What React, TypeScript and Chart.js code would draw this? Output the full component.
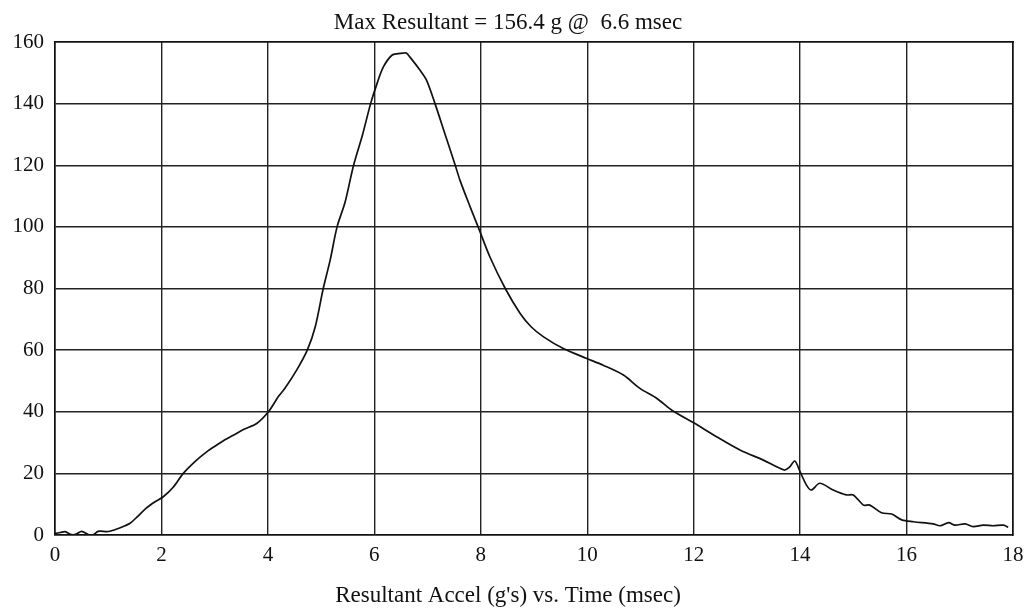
import React, { useEffect, useRef } from "react";
import { Chart, registerables } from "chart.js";

Chart.register(...registerables);

const titleText = "Max Resultant = 156.4 g @  6.6 msec";
const xAxisTitle = "Resultant Accel (g's) vs. Time (msec)";

const timeMs = [
  0.0, 0.1, 0.19, 0.31, 0.4, 0.5, 0.63, 0.72, 0.81, 0.97, 1.03, 1.2, 1.41, 1.55, 1.72, 1.88,
  2.04, 2.22, 2.41, 2.66, 2.85, 3.04, 3.2, 3.35, 3.55, 3.79, 4.01, 4.2, 4.32, 4.54, 4.74,
  4.89, 5.04, 5.17, 5.3, 5.45, 5.61, 5.78, 5.93, 6.05, 6.17, 6.33, 6.45, 6.54, 6.6, 6.67,
  6.86, 6.98, 7.14, 7.33, 7.52, 7.61, 7.8, 7.95, 8.17, 8.46, 8.74, 8.95, 9.18, 9.55, 9.99,
  10.3, 10.68, 10.99, 11.31, 11.59, 12.0, 12.43, 12.87, 13.31, 13.7, 13.8, 13.9, 14.0,
  14.12, 14.21, 14.37, 14.62, 14.87, 15.0, 15.19, 15.31, 15.53, 15.72, 15.91, 16.13, 16.5,
  16.63, 16.79, 16.91, 17.1, 17.25, 17.44, 17.63, 17.82, 17.91,
];

const accelG = [
  0.5, 0.8, 1.1, 0.1, 0.3, 1.2, 0.1, 0.1, 1.2, 1.1, 1.2, 2.2, 3.8, 6.0, 8.8, 10.8,
  12.5, 15.5, 20.0, 24.3, 27.0, 29.2, 31.0, 32.4, 34.3, 36.2, 40.0, 45.0, 47.6, 53.5, 60.0,
  67.6, 80.0, 89.2, 100.0, 108.0, 120.0, 130.0, 140.0, 146.5, 151.9, 155.7, 156.2, 156.4, 156.4, 155.1,
  150.8, 147.6, 140.0, 130.0, 120.0, 115.1, 106.5, 100.0, 90.3, 80.0, 71.9, 67.5, 64.3, 60.5, 57.3,
  55.1, 51.9, 47.6, 44.3, 40.5, 36.4, 31.9, 27.6, 24.3, 21.1, 22.0, 24.0, 20.5,
  16.2, 14.6, 16.8, 14.6, 13.0, 13.0, 9.7, 9.7, 7.2, 6.8, 4.9, 4.3, 3.6,
  3.0, 4.0, 3.2, 3.6, 2.7, 3.2, 3.0, 3.2, 2.5,
];

const xMin = 0;
const xMax = 18;
const xStep = 2;
const yMin = 0;
const yMax = 160;
const yStep = 20;

const FONT = "'Liberation Serif', 'Times New Roman', serif";

export default function App() {
  const ref = useRef<HTMLCanvasElement | null>(null);

  useEffect(() => {
    if (!ref.current) return;
    const textPlugin = {
      id: "texts",
      afterDraw(chart: any) {
        const ctx = chart.ctx;
        ctx.save();
        ctx.fillStyle = "#111";
        ctx.textAlign = "center";
        ctx.textBaseline = "alphabetic";
        ctx.font = `23px ${FONT}`;
        ctx.fillText(titleText, 508, 29);
        ctx.font = `23px ${FONT}`;
        ctx.fillText(xAxisTitle, 508, 602);
        ctx.restore();
      },
    };

    const chart = new Chart(ref.current, {
      type: "line",
      data: {
        datasets: [
          {
            data: timeMs.map((t, i) => ({ x: t, y: accelG[i] })),
            borderColor: "#111",
            borderWidth: 1.7,
            pointRadius: 0,
            tension: 0.3,
            fill: false,
          },
        ],
      },
      options: {
        animation: false,
        responsive: false,
        maintainAspectRatio: false,
        layout: { padding: { left: 0, right: 22, top: 42, bottom: 0 } },
        plugins: {
          legend: { display: false },
          title: { display: false },
          tooltip: { enabled: false },
        },
        scales: {
          x: {
            type: "linear",
            min: xMin,
            max: xMax,
            ticks: {
              stepSize: xStep,
              color: "#111",
              font: { family: FONT, size: 21 },
              padding: 8,
              maxRotation: 0,
            },
            grid: { color: "#222", lineWidth: 1.4, tickLength: 0, drawTicks: false },
            border: { color: "#111", width: 1.6 },
            afterFit(scale: any) {
              scale.height = 75;
            },
          },
          y: {
            min: yMin,
            max: yMax,
            ticks: {
              stepSize: yStep,
              color: "#111",
              font: { family: FONT, size: 21 },
              padding: 11,
            },
            grid: { color: "#222", lineWidth: 1.4, tickLength: 0, drawTicks: false },
            border: { color: "#111", width: 1.6 },
            afterFit(scale: any) {
              scale.width = 55;
            },
          },
          x2: {
            type: "linear",
            position: "top",
            display: true,
            min: xMin,
            max: xMax,
            ticks: { display: false },
            grid: { display: false },
            border: { color: "#111", width: 1.6 },
            afterFit(scale: any) {
              scale.height = 0;
            },
          },
          y2: {
            position: "right",
            display: true,
            min: yMin,
            max: yMax,
            ticks: { display: false },
            grid: { display: false },
            border: { color: "#111", width: 1.6 },
            afterFit(scale: any) {
              scale.width = 0;
            },
          },
        },
      },
      plugins: [textPlugin],
    });
    return () => chart.destroy();
  }, []);

  return (
    <div style={{ position: "fixed", left: 0, top: 0, width: 1035, height: 610, background: "#fff" }}>
      <canvas ref={ref} width={1035} height={610} style={{ width: 1035, height: 610 }} />
    </div>
  );
}
